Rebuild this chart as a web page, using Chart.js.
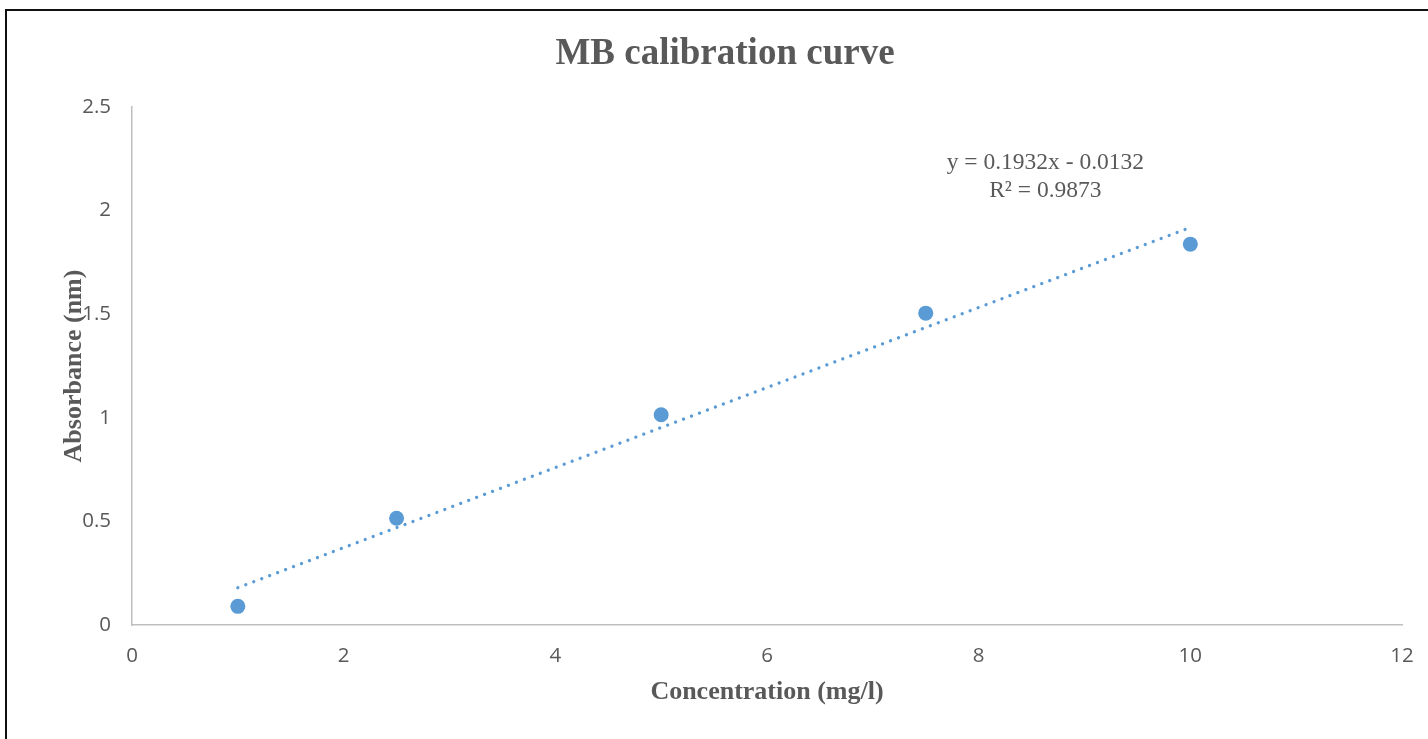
<!DOCTYPE html>
<html>
<head>
<meta charset="utf-8">
<title>MB calibration curve</title>
<script src="https://cdn.jsdelivr.net/npm/chart.js@4/dist/chart.umd.min.js"></script>
<style>
  html, body { margin: 0; padding: 0; background: #fff; }
  #wrap { position: absolute; left: 0; top: 0; width: 1428px; height: 739px; }
  #frame {
    position: absolute; left: 5px; top: 9px; width: 1440px; height: 760px;
    border-top: 2px solid #111; border-left: 2px solid #111;
    pointer-events: none;
  }
</style>
</head>
<body>
<div id="wrap"><canvas id="chart" width="1428" height="739"></canvas></div>
<div id="frame"></div>
<script>
// measured standards
const concentration = [1, 2.5, 5, 7.5, 10];          // mg/l
const absorbance = [0.09, 0.515, 1.015, 1.505, 1.838];

// linear trendline as reported: y = 0.1932x - 0.0132
const trendSlope = 0.1932;
const trendIntercept = -0.0132;
const trendR2 = 0.9873;
const trendRange = [1, 10];

// axis ranges
const xRange = [0, 12];
const xStep = 2;
const yRange = [0, 2.5];
const yStep = 0.5;

const chartTitle = "MB calibration curve";

const blue = "#5B9BD5";
const textGrey = "#595959";
const axisGrey = "#BFBFBF";
const serif = '"Liberation Serif", "Times New Roman", serif';
const sans = '"Open Sans", "Liberation Sans", sans-serif';

const trendPoints = trendRange.map((x) => ({ x: x, y: trendSlope * x + trendIntercept }));
const equationLines = [
  "y = " + trendSlope + "x - " + Math.abs(trendIntercept),
  "R\u00B2 = " + trendR2,
];
const equationAt = { x: 8.63, y: 2.23 }; // where the equation box sits, in data units

// title centred on the whole frame, plus the trendline equation text
const overlayText = {
  id: "overlayText",
  afterDatasetsDraw(chart) {
    const { ctx, scales } = chart;
    ctx.save();
    ctx.fillStyle = textGrey;
    ctx.textAlign = "center";
    ctx.textBaseline = "middle";

    ctx.font = "bold 37px " + serif;
    ctx.fillText(chartTitle, 725, 54);

    const px = scales.x.getPixelForValue(equationAt.x);
    const py = scales.y.getPixelForValue(equationAt.y);
    ctx.font = "23.5px " + serif;
    ctx.fillText(equationLines[0], px, py);
    ctx.fillText(equationLines[1], px, py + 28);
    ctx.restore();
  },
};

const ctx = document.getElementById("chart").getContext("2d");

new Chart(ctx, {
  type: "scatter",
  data: {
    datasets: [
      {
        label: "Linear (MB)",
        type: "line",
        data: trendPoints,
        borderColor: blue,
        borderWidth: 3.3,
        borderDash: [0.01, 8.5],
        borderCapStyle: "round",
        pointRadius: 0,
        fill: false,
        order: 2,
      },
      {
        label: "MB",
        data: concentration.map((c, i) => ({ x: c, y: absorbance[i] })),
        backgroundColor: blue,
        borderColor: blue,
        borderWidth: 0,
        pointRadius: 7.5,
        pointHoverRadius: 7.5,
        order: 1,
      },
    ],
  },
  options: {
    responsive: false,
    animation: false,
    layout: { padding: { top: 107, right: 26, bottom: 0, left: 0 } },
    plugins: {
      legend: { display: false },
      tooltip: { enabled: false },
      title: { display: false },
    },
    scales: {
      x: {
        type: "linear",
        min: xRange[0],
        max: xRange[1],
        ticks: {
          stepSize: xStep,
          padding: 19,
          color: textGrey,
          font: { family: sans, size: 20.5 },
          callback: (v) => String(v),
        },
        grid: { display: false, drawTicks: false },
        border: { color: axisGrey, width: 1.5 },
        title: {
          display: true,
          text: "Concentration (mg/l)",
          color: textGrey,
          font: { family: serif, size: 26, weight: "bold" },
          padding: { top: 0, bottom: 31 },
        },
        afterFit: (scale) => {
          scale.height = 114;
          // the layout padding already leaves room for the end labels
          scale.paddingLeft = 0;
          scale.paddingRight = 0;
        },
      },
      y: {
        type: "linear",
        min: yRange[0],
        max: yRange[1],
        ticks: {
          stepSize: yStep,
          padding: 21,
          color: textGrey,
          font: { family: sans, size: 20.5 },
          callback: (v) => String(v),
        },
        grid: { display: false, drawTicks: false },
        border: { color: axisGrey, width: 1.5 },
        title: {
          display: true,
          text: "Absorbance (nm)",
          color: textGrey,
          font: { family: serif, size: 26, weight: "bold" },
          padding: { top: 59, bottom: 0 },
        },
        afterFit: (scale) => { scale.width = 132; },
      },
    },
  },
  plugins: [overlayText],
});
</script>
</body>
</html>
